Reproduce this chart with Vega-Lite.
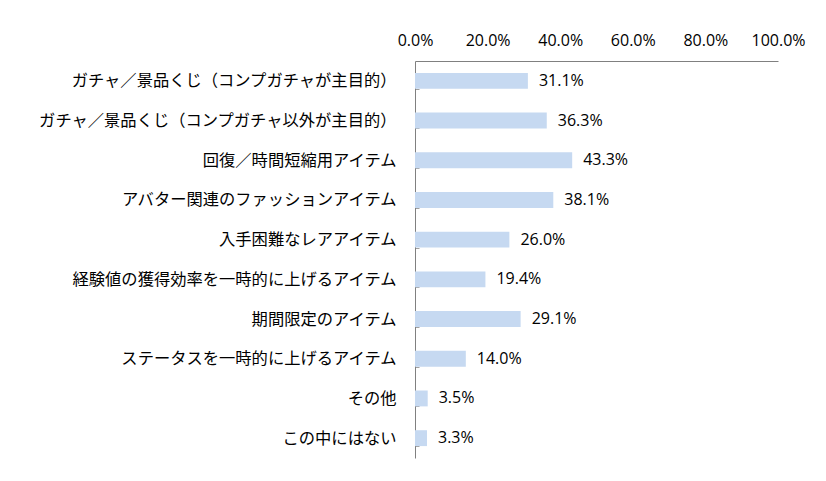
{
  "$schema": "https://vega.github.io/schema/vega-lite/v6.json",
  "autosize": {"type": "none"},
  "padding": {"left": 415, "top": 61, "right": 48, "bottom": 23},
  "width": 363,
  "height": 397,
  "background": "white",
  "data": {"values": [
    {"item": "ガチャ／景品くじ（コンプガチャが主目的）", "value": 0.311},
    {"item": "ガチャ／景品くじ（コンプガチャ以外が主目的）", "value": 0.363},
    {"item": "回復／時間短縮用アイテム", "value": 0.433},
    {"item": "アバター関連のファッションアイテム", "value": 0.381},
    {"item": "入手困難なレアアイテム", "value": 0.26},
    {"item": "経験値の獲得効率を一時的に上げるアイテム", "value": 0.194},
    {"item": "期間限定のアイテム", "value": 0.291},
    {"item": "ステータスを一時的に上げるアイテム", "value": 0.14},
    {"item": "その他", "value": 0.035},
    {"item": "この中にはない", "value": 0.033}
  ]},
  "encoding": {
    "y": {"field": "item", "type": "nominal", "sort": null,
      "scale": {"paddingInner": 0.6, "paddingOuter": 0.3},
      "axis": {"title": null, "labelFont": "Noto Sans CJK JP", "labelFontSize": 16.3, "labelColor": "#000000",
        "labelLimit": 420, "labelPadding": 23, "domainColor": "#808080", "tickColor": "#a0a0a0", "tickSize": -4, "tickBand": "extent", "grid": false}},
    "x": {"field": "value", "type": "quantitative",
      "scale": {"domain": [0, 1], "nice": false},
      "axis": {"orient": "top", "title": null, "values": [0, 0.2, 0.4, 0.6, 0.8, 1], "format": ".1%",
        "labelFont": "Open Sans", "labelFontSize": 16, "labelColor": "#000000", "ticks": false, "grid": false,
        "domainColor": "#808080", "labelPadding": 13, "labelFlush": false}}
  },
  "layer": [
    {"mark": {"type": "bar", "color": "#c6d9f1"}},
    {"mark": {"type": "text", "align": "left", "dx": 11, "font": "Open Sans", "fontSize": 16, "color": "#000000"},
      "encoding": {"text": {"field": "value", "type": "quantitative", "format": ".1%"}}}
  ],
  "config": {"view": {"stroke": null}}
}
